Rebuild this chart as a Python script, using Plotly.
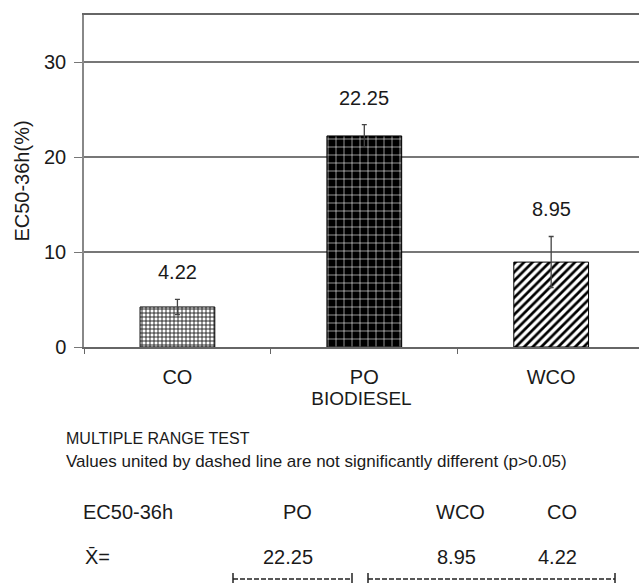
import plotly.graph_objects as go

# ---------------- data ----------------
categories = ["CO", "PO", "WCO"]
ec50 = [4.22, 22.25, 8.95]
ec50_err = [0.8, 1.2, 2.7]
value_labels = ["4.22", "22.25", "8.95"]
y_tick_vals = [0, 10, 20, 30]

mrt_title = "MULTIPLE RANGE TEST"
mrt_note = "Values united by dashed line are not significantly different (p>0.05)"
mrt_row_label = "EC50-36h"
mrt_mean_label = "X\u0304="
mrt_order = ["PO", "WCO", "CO"]
mrt_means = ["22.25", "8.95", "4.22"]

# ---------------- layout helpers ----------------
W, H = 639, 585
L, T, B = 84, 15, 238
PW = W - L
PH = H - T - B
FONT = "Arial, Liberation Sans, Helvetica, sans-serif"
TXT = "#1a1a1a"


def px(x):
    return (x - L) / PW


def py(y):
    return (H - B - y) / PH


patterns = [
    dict(shape="+", bgcolor="white", fgcolor="#1a1a1a", size=4, solidity=0.4, fillmode="replace"),
    dict(shape="+", bgcolor="black", fgcolor="white", size=8, solidity=0.14, fillmode="replace"),
    dict(shape="/", bgcolor="white", fgcolor="black", size=6, solidity=0.45, fillmode="replace"),
]

fig = go.Figure()
for i, c in enumerate(categories):
    fig.add_trace(go.Bar(
        x=[c], y=[ec50[i]], width=0.4,
        marker=dict(color="white", pattern=patterns[i], line=dict(color="black", width=1)),
        error_y=dict(type="data", array=[ec50_err[i]], visible=True, color="#444444",
                     thickness=1.3, width=2.5),
        showlegend=False, hoverinfo="skip",
    ))

annotations = []
for c, v, e, lab in zip(categories, ec50, ec50_err, value_labels):
    annotations.append(dict(x=c, y=v + e, xref="x", yref="y", text=lab, showarrow=False,
                            yanchor="middle", yshift=27, font=dict(size=20, color=TXT)))

# multiple range test block
annotations.append(dict(x=px(64), y=py(439), xref="paper", yref="paper", text=mrt_title,
                        showarrow=False, xanchor="left", yanchor="middle",
                        font=dict(size=16, color=TXT)))
annotations.append(dict(x=px(64), y=py(462), xref="paper", yref="paper", text=mrt_note,
                        showarrow=False, xanchor="left", yanchor="middle",
                        font=dict(size=17, color=TXT)))
annotations.append(dict(x=px(81), y=py(512), xref="paper", yref="paper", text=mrt_row_label,
                        showarrow=False, xanchor="left", yanchor="middle",
                        font=dict(size=20, color=TXT)))
annotations.append(dict(x=px(83), y=py(557), xref="paper", yref="paper", text=mrt_mean_label,
                        showarrow=False, xanchor="left", yanchor="middle",
                        font=dict(size=20, color=TXT)))
name_x = [297, 461, 562]
mean_x = [288, 456, 557]
for n, m, xn, xm in zip(mrt_order, mrt_means, name_x, mean_x):
    annotations.append(dict(x=px(xn), y=py(512), xref="paper", yref="paper", text=n,
                            showarrow=False, xanchor="center", yanchor="middle",
                            font=dict(size=20, color=TXT)))
    annotations.append(dict(x=px(xm), y=py(557), xref="paper", yref="paper", text=m,
                            showarrow=False, xanchor="center", yanchor="middle",
                            font=dict(size=20, color=TXT)))

shapes = []
for x0, x1 in [(233, 352), (368, 615)]:
    shapes.append(dict(type="line", xref="paper", yref="paper", x0=px(x0), x1=px(x1),
                       y0=py(579), y1=py(579), line=dict(color="#222", width=1.3, dash="5px,2px")))
    for xe in (x0, x1):
        shapes.append(dict(type="line", xref="paper", yref="paper", x0=px(xe), x1=px(xe),
                           y0=py(573), y1=py(583), line=dict(color="#222", width=1.5)))

fig.update_layout(
    width=W, height=H,
    margin=dict(l=L, r=0, t=T, b=B, autoexpand=False),
    paper_bgcolor="white", plot_bgcolor="white",
    font=dict(family=FONT, color=TXT),
    bargap=0.6,
    hovermode=False,
    annotations=annotations, shapes=shapes,
    xaxis=dict(
        range=[-0.5, 2.47], type="category", categoryorder="array", categoryarray=categories,
        showline=True, linecolor="#666", linewidth=1.5, mirror=True,
        ticks="outside", tickson="boundaries", ticklen=5, tickcolor="#666",
        ticklabelstandoff=11,
        tickfont=dict(size=20, color=TXT),
        title=dict(text="BIODIESEL", font=dict(size=19, color=TXT), standoff=4),
        showgrid=False,
    ),
    yaxis=dict(
        range=[0, 35], tickvals=y_tick_vals, showgrid=True, gridcolor="#777", gridwidth=1.5,
        showline=True, linecolor="#888", linewidth=1.5, zeroline=False,
        ticks="outside", ticklen=8, tickcolor="#777",
        ticklabelstandoff=4,
        tickfont=dict(size=20, color=TXT),
        title=dict(text="EC50-36h(%)", font=dict(size=20, color=TXT), standoff=9),
    ),
)

fig.write_html("out.html", config={"displayModeBar": False},
               post_script="document.body.style.margin='0';document.body.style.padding='0';")
